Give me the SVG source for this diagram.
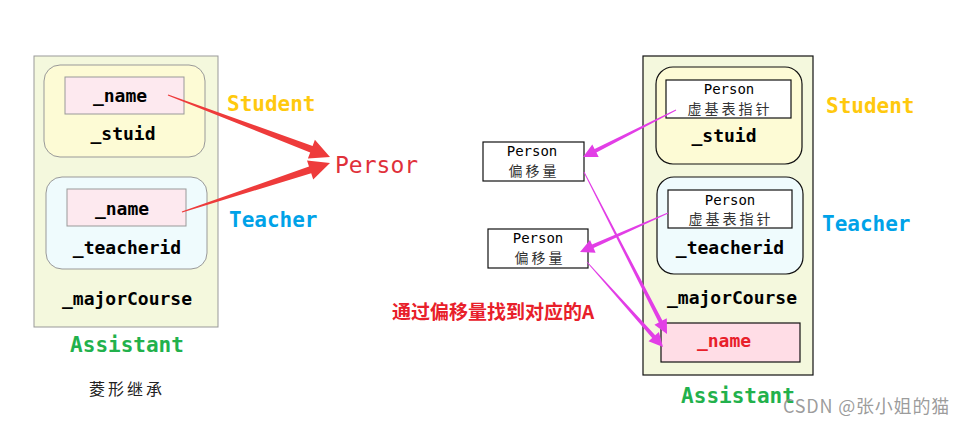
<svg xmlns="http://www.w3.org/2000/svg" width="969" height="425" viewBox="0 0 969 425">
<style>
.mono{font-family:"DejaVu Sans Mono","Liberation Mono",monospace;font-weight:bold;font-size:18px;fill:#000;text-anchor:middle}
.lbl{font-family:"DejaVu Sans Mono","Liberation Mono",monospace;font-weight:bold;font-size:21px}
.per{font-family:"DejaVu Sans Mono","Liberation Mono",monospace;font-size:14px;fill:#000;text-anchor:middle}
.cjk{font-family:"Noto Sans CJK SC",sans-serif;font-size:14px;fill:#333;text-anchor:middle;letter-spacing:3px}
.outerL{fill:#f4f8dd;stroke:#999;stroke-width:1}
.outerR{fill:#f4f8dd;stroke:#111;stroke-width:1.2}
.red{fill:#ee3b3b}
.mag{fill:#e23ee6}
</style>
<rect width="969" height="425" fill="#fff"/>

<!-- Left diagram -->
<g id="left-assistant">
<rect class="outerL" x="34" y="56" width="184" height="271"/>
<text class="mono" x="127" y="305">_majorCourse</text>
<text class="lbl" x="127" y="352" fill="#22b14c" text-anchor="middle">Assistant</text>
</g>
<g id="left-student">
<rect x="44" y="65" width="161" height="92" rx="16" fill="#fdfbd5" stroke="#999"/>
<rect x="65" y="77" width="119" height="37" fill="#fde9ef" stroke="#999"/>
<text class="mono" x="120" y="102">_name</text>
<text class="mono" x="123" y="140">_stuid</text>
</g>
<g id="left-teacher">
<rect x="46" y="177" width="161" height="92" rx="16" fill="#effbfd" stroke="#999"/>
<rect x="67" y="189" width="119" height="37" fill="#fde9ef" stroke="#999"/>
<text class="mono" x="122" y="215">_name</text>
<text class="mono" x="127" y="254">_teacherid</text>
</g>
<g id="left-labels">
<text class="lbl" x="227" y="111" fill="#ffc90e">Student</text>
<text class="lbl" x="229" y="227" fill="#00a2e8">Teacher</text>
<text x="127" y="395" font-family="'Noto Sans CJK SC',sans-serif" font-size="16" fill="#222" text-anchor="middle" letter-spacing="3">菱形继承</text>
</g>
<g id="person">
<text x="335" y="173" font-family="'DejaVu Sans Mono','Liberation Mono',monospace" font-size="23" fill="#e0303a">Persor</text>
</g>

<!-- Right diagram -->
<g id="right-assistant">
<rect class="outerR" x="643" y="56" width="170" height="319"/>
<text class="mono" x="732" y="304">_majorCourse</text>
<text class="lbl" x="738" y="403" fill="#22b14c" text-anchor="middle">Assistant</text>
</g>
<g id="right-student">
<rect x="656" y="67" width="146" height="97" rx="17" fill="#fdfbd5" stroke="#111" stroke-width="1.2"/>
<rect x="666" y="80" width="125" height="38" fill="#fff" stroke="#111" stroke-width="1.2"/>
<text class="per" x="729" y="94">Person</text>
<text class="cjk" x="730" y="114">虚基表指针</text>
<text class="mono" x="724" y="142">_stuid</text>
</g>
<g id="right-teacher">
<rect x="657" y="177" width="146" height="97" rx="17" fill="#effbfd" stroke="#111" stroke-width="1.2"/>
<rect x="668" y="190" width="124" height="38" fill="#fff" stroke="#111" stroke-width="1.2"/>
<text class="per" x="730" y="205">Person</text>
<text class="cjk" x="731" y="224">虚基表指针</text>
<text class="mono" x="730" y="254">_teacherid</text>
</g>
<g id="right-name">
<rect x="661" y="323" width="139" height="39" fill="#ffdde6" stroke="#111" stroke-width="1.2"/>
<text class="mono" x="724" y="347" style="fill:#e8202a">_name</text>
</g>
<g id="right-labels">
<text class="lbl" x="826" y="113" fill="#ffc90e">Student</text>
<text class="lbl" x="822" y="231" fill="#00a2e8">Teacher</text>
</g>
<g id="offset1">
<rect x="483" y="142" width="101" height="39" fill="#fff" stroke="#111" stroke-width="1.2"/>
<text class="per" x="532" y="156">Person</text>
<text class="cjk" x="534" y="176">偏移量</text>
</g>
<g id="offset2">
<rect x="488" y="229" width="100" height="39" fill="#fff" stroke="#111" stroke-width="1.2"/>
<text class="per" x="538" y="243">Person</text>
<text class="cjk" x="540" y="263">偏移量</text>
</g>
<g id="note">
<text x="392" y="319" font-family="'Noto Sans CJK SC',sans-serif" font-weight="bold" font-size="19" fill="#e8202a">通过偏移量找到对应的A</text>
</g>

<g id="connectors">
<polygon class="red" points="168.2,94.5 312.6,145.9 314.9,139.8 330,157 307.9,158.6 310.2,152.5 167.8,95.5"/>
<polygon class="red" points="181.8,211.5 309.0,166.6 307.0,160.4 330,163 313.2,179.4 311.2,173.2 182.2,212.5"/>
<polygon class="mag" points="676.2,110.4 596.4,152.5 598.7,156.9 583,157 592.3,144.5 594.6,148.9 675.8,109.6"/>
<polygon class="mag" points="668.2,213.5 593.6,248.1 595.6,252.7 580,252 590.0,239.9 592.0,244.5 667.8,212.5"/>
<polygon class="mag" points="584.4,171.8 662.4,320.6 666.8,318.3 667,334 654.4,324.7 658.8,322.4 583.6,172.2"/>
<polygon class="mag" points="587.3,261.7 655.2,335.3 658.9,331.9 663,347 648.5,341.3 652.2,337.9 586.7,262.3"/>
</g>

<text x="783" y="413" font-family="'Noto Sans CJK SC',sans-serif" font-size="18" letter-spacing="0.8" fill="#8a8a8a" fill-opacity="0.85">CSDN @张小姐的猫</text>
</svg>
